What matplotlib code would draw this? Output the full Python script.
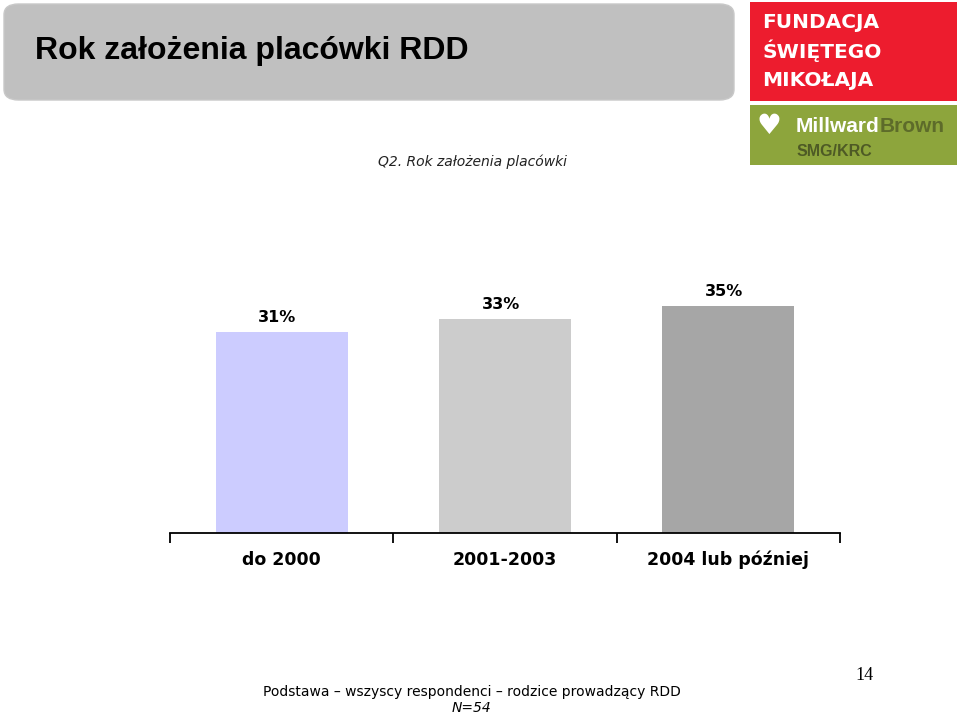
import matplotlib
matplotlib.use("Agg")
import matplotlib.pyplot as plt
from matplotlib.patches import FancyBboxPatch, Rectangle

# dane z wykresu
categories = ["do 2000", "2001-2003", "2004 lub później"]
values = [31, 33, 35]
value_labels = ["31%", "33%", "35%"]
bar_colors = ["#ccccff", "#cccccc", "#a6a6a6"]

W, H = 960, 715
fig = plt.figure(figsize=(W / 100, H / 100), dpi=100)

def fx(px):
    return px / W

def fy(py):
    return 1 - py / H

# naglowek - szary zaokraglony prostokat
hdr = FancyBboxPatch((fx(4), fy(100)), fx(730), 96 / H,
                     boxstyle="round,pad=0,rounding_size=0.015",
                     transform=fig.transFigure, facecolor="#c0c0c0",
                     edgecolor="#c8c8c8", linewidth=1)
fig.patches.append(hdr)
fig.text(fx(35), fy(51), "Rok założenia placówki RDD", fontsize=23,
         fontweight="bold", family="Liberation Sans", va="center", ha="left")

# logo fundacji
fig.patches.append(Rectangle((fx(750), fy(101)), fx(207), 99 / H,
                             transform=fig.transFigure, facecolor="#ed1c2e",
                             edgecolor="none"))
for i, line in enumerate(["FUNDACJA", "ŚWIĘTEGO", "MIKOŁAJA"]):
    fig.text(fx(762), fy(22 + i * 29), line, fontsize=14.5, color="white",
             family="DejaVu Sans", fontweight="semibold",
             va="center", ha="left")

# logo Millward Brown
fig.patches.append(Rectangle((fx(750), fy(165)), fx(207), 60 / H,
                             transform=fig.transFigure, facecolor="#8da53c",
                             edgecolor="none"))
fig.text(fx(757), fy(126), "\u2665", fontsize=20, color="white",
         va="center", ha="left", family="DejaVu Sans")
t1 = fig.text(fx(796), fy(127), "Millward", fontsize=15, color="white",
              fontweight="bold", va="center", ha="left", family="Liberation Sans")
fig.canvas.draw()
bb = t1.get_window_extent()
fig.text(bb.x1 / W, fy(127), "Brown", fontsize=15, color="#5d6b2a",
         fontweight="bold", va="center", ha="left", family="Liberation Sans")
fig.text(fx(797), fy(151), "SMG/KRC", fontsize=11.5, color="#4e5a25",
         fontweight="bold", va="center", ha="left", family="Liberation Sans")

fig.text(fx(472), fy(162), "Q2. Rok założenia placówki", fontsize=10,
         style="italic", color="#222222", ha="center", va="center")

# wykres slupkowy
ax = fig.add_axes([fx(170), fy(533), fx(670), 260 / H])
x = range(len(categories))
ax.bar(x, values, width=0.59, color=bar_colors, edgecolor="none")
for xi, v, lab in zip(x, values, value_labels):
    ax.text(xi - 0.02, v + 1.0, lab, ha="center", va="bottom",
            fontsize=11.5, fontweight="bold")

ax.set_xlim(-0.5, 2.5)
ax.set_ylim(0, 40)
for s in ["top", "right", "left"]:
    ax.spines[s].set_visible(False)
ax.spines["bottom"].set_linewidth(1.3)
ax.set_yticks([])
ax.set_xticks([-0.5, 0.5, 1.5, 2.5])
ax.set_xticklabels([])
ax.tick_params(axis="x", length=7, width=1.3, direction="out")
for xi, c in zip(x, categories):
    ax.text(xi, -4.1, c, ha="center", va="center", fontsize=12.5,
            fontweight="bold", transform=ax.transData, clip_on=False)

# stopka
fig.text(fx(472), fy(692), "Podstawa – wszyscy respondenci – rodzice prowadzący RDD",
         fontsize=10, ha="center", va="center")
fig.text(fx(471), fy(708), "N=54", fontsize=10, style="italic",
         ha="center", va="center")
fig.text(fx(864), fy(675), "14", fontsize=13, family="Liberation Serif",
         ha="center", va="center")

fig.savefig("out.png", dpi=100)
